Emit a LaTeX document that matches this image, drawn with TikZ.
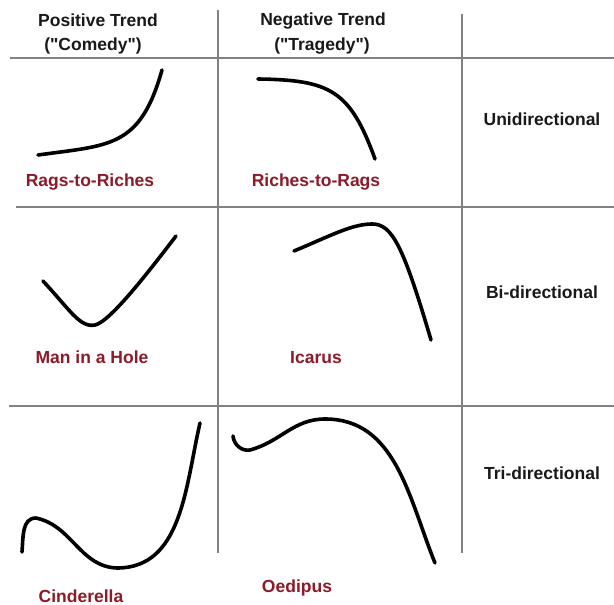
\documentclass[tikz,border=0pt]{standalone}
\usepackage{fontspec}
\setmainfont{Liberation Sans}[Ligatures=TeXOff]
\definecolor{labelred}{RGB}{140,26,40}
\definecolor{headtext}{RGB}{25,25,25}
\definecolor{gridgray}{RGB}{130,130,130}
\tikzset{
  gridline/.style={draw=gridgray, line width=1.4pt},
  plot/.style={draw=black, line width=3.6pt, line cap=round},
  headlbl/.style={anchor=base, inner sep=0pt, text=headtext, font=\fontsize{17.5}{21}\selectfont\bfseries},
  storylbl/.style={anchor=base, inner sep=0pt, text=labelred, font=\fontsize{17.5}{21}\selectfont\bfseries}
}
\begin{document}
\begin{tikzpicture}[x=1pt,y=1pt]
\useasboundingbox[fill=white] (0,0) rectangle (614,-605);

% grid
\draw[gridline] (218,-10) -- (218,-553);
\draw[gridline] (462,-14) -- (462,-553);
\draw[gridline] (10,-58) -- (614,-58);
\draw[gridline] (16,-207) -- (614,-207);
\draw[gridline] (9,-406) -- (614,-406);

% headers
\node[headlbl] (pos) at (98,-27) {Positive Trend};
\node[headlbl] (com) at (93,-50) {("Comedy")};
\node[headlbl] (neg) at (323,-26) {Negative Trend};
\node[headlbl] (tra) at (322,-50) {("Tragedy")};

\node[headlbl] (uni) at (542,-125) {Unidirectional};
\node[headlbl] (bi) at (542,-298) {Bi-directional};
\node[headlbl] (tri) at (542,-479) {Tri-directional};

% curves
\draw[plot] (38,-155) .. controls (110,-145) and (140,-148) .. (162,-70);
\draw[plot] (258,-79) .. controls (330,-80) and (350,-90) .. (375,-159);
\draw[plot] (43,-281) .. controls (70,-310) and (80,-328) .. (95,-325)
            .. controls (110,-322) and (150,-270) .. (176,-236);
\draw[plot] (294,-251) .. controls (330,-236) and (352,-224) .. (372,-224)
            .. controls (392,-224) and (403,-245) .. (431,-340);
\draw[plot] (22,-552) to[out=85,in=180] (36,-518) to[out=-12,in=178] (117,-568) to[out=0,in=-103] (200,-423);
\draw[plot] (233,-436) to[out=-85,in=190] (250,-450) to[out=15,in=180] (325,-419) to[out=0,in=112] (435,-563);

% story labels
\node[storylbl] (rr) at (90,-186) {Rags-to-Riches};
\node[storylbl] (rg) at (316,-186) {Riches-to-Rags};
\node[storylbl] (mh) at (92,-363) {Man in a Hole};
\node[storylbl] (ic) at (316,-363) {Icarus};
\node[storylbl] (ci) at (81,-602) {Cinderella};
\node[storylbl] (oe) at (297,-592) {Oedipus};
\end{tikzpicture}
\end{document}
